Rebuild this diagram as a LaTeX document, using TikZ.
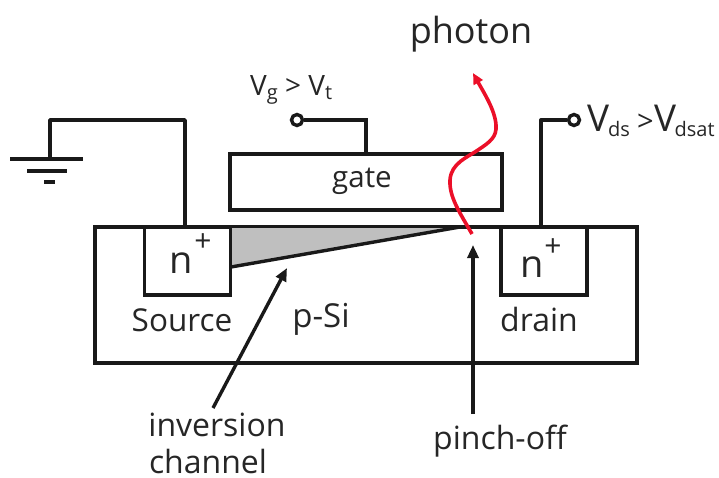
\documentclass[tikz,border=0pt]{standalone}
\usepackage{fontspec}
\setmainfont{Open Sans}
\usepackage{tikz}
\usetikzlibrary{arrows.meta}
\definecolor{photonred}{RGB}{235,15,40}
\def\LineW{3.4pt}
\newcommand{\fsize}[1]{\fontsize{#1}{#1}\selectfont}
\newcommand{\lowsub}[2]{\raisebox{-0.12em}{\fsize{#1}#2}}
\tikzset{
  region/.style={draw=black!90,line width=\LineW,inner sep=0pt,outer sep=0pt},
  wire/.style={draw=black!90,line width=\LineW},
  pointer/.style={draw=black!90,line width=\LineW,-{Triangle[length=13pt,width=11pt]}},
  terminal/.style={circle,draw=black!90,fill=white,line width=\LineW,minimum size=11pt,inner sep=0pt},
  lbl/.style={inner sep=0pt,text=black!85,font=\fsize{#1}},
  lbl/.default=28pt
}
\begin{document}
\begin{tikzpicture}[x=1pt,y=-1pt]
	\useasboundingbox (0,0) rectangle (719,478);
	% silicon body and wells
	\node[region,minimum width=542pt,minimum height=136pt] (sub) at (366,295) {};
	\fill[black!25] (231,228) -- (460,228) -- (231,267) -- cycle;
	\node[region,minimum width=86pt,minimum height=68pt] (src) at (187.5,261) {};
	\node[region,minimum width=86pt,minimum height=68pt] (drn) at (544,261) {};
	\node[region,minimum width=272pt,minimum height=56pt] (gate) at (366,182) {};
	\coordinate (chs) at (231,267);
	\coordinate (cht) at (460,227);
	\draw[wire] (chs) -- (cht);
	%
	\node[lbl=29.5pt] (gatetxt) at (362,181) {gate};
	\node[lbl=38pt] (nsrc) at (181,263) {n};
	\node[lbl=30pt] (psrc) at (203,243) {+};
	\node[lbl=38pt] (ndrn) at (532,267) {n};
	\node[lbl=30pt] (pdrn) at (553,248) {+};
	\node[lbl=31.5pt] (srctxt) at (182,320) {Source};
	\node[lbl=33pt] (sitxt) at (321,319) {p-Si};
	\node[lbl=32pt] (drntxt) at (539,319) {drain};
	\node[lbl=32pt] (invtxt) at (217,425) {inversion};
	\node[lbl=32pt] (chntxt) at (208,461) {channel};
	\node[lbl=32pt] (pchtxt) at (500,441) {pinch-off};
	\node[lbl=36pt] (phtxt) at (471,34) {photon};
	\node[lbl=28pt,anchor=west] (vgtxt) at (250,90) {V\lowsub{20pt}{g} > V\lowsub{20pt}{t}};
	\node[lbl=37pt,anchor=west] (vdtxt) at (587,121) {V\kern-1pt\lowsub{20pt}{ds}\kern7pt{\fsize{29pt}>}\kern1pt V\kern-2pt\lowsub{20pt}{dsat}};
	% source wire and ground
	\coordinate (gnd) at (50,159);
	\coordinate (srcup) at (185,227);
	\draw[wire,line join=round] (gnd) -- (50,120) -- (185,120) -- (srcup);
	\coordinate (gl) at (10,159);
	\coordinate (gr) at (83,159);
	\draw[wire] (gl) -- (gr);
	\draw[wire] (27,171) -- (67,171);
	\draw[wire] (44,182) -- (55,182);
	% gate wire
	\node[terminal] (vg) at (297,120) {};
	\coordinate (gup) at (366,154);
	\draw[wire] (vg) -- (366,120) -- (gup);
	% drain wire
	\node[terminal] (vd) at (574,120) {};
	\coordinate (dup) at (541,227);
	\draw[wire,line join=round] (dup) -- (541,120) -- (vd);
	% pointers
	\coordinate (invs) at (213,408);
	\coordinate (invt) at (287,268);
	\draw[pointer] (invs) -- (invt);
	\coordinate (pchs) at (473,414);
	\coordinate (pcht) at (473,245);
	\draw[pointer] (pchs) -- (pcht);
	% photon
	\coordinate (phs) at (472,234);
	\coordinate (pht) at (473,73);
	\draw[photonred,line width=3.6pt,-{Triangle[length=11pt,width=10pt]}] (phs)
		.. controls (460,213) and (449,197) .. (450,180)
		.. controls (451,163) and (468,157) .. (478,150)
		.. controls (490,142) and (497,137) .. (496,125)
		.. controls (495,110) and (484,93) .. (pht);
\end{tikzpicture}
\end{document}
